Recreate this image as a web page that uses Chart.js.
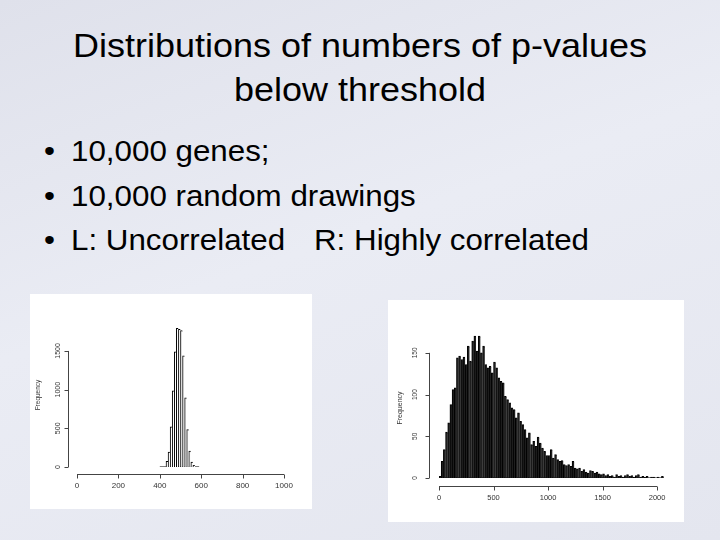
<!DOCTYPE html>
<html>
<head>
<meta charset="utf-8">
<script src="https://cdn.jsdelivr.net/npm/chart.js@4/dist/chart.umd.min.js"></script>
<style>
  html, body { margin: 0; padding: 0; }
  body {
    width: 720px; height: 540px; position: relative; overflow: hidden;
    background: linear-gradient(160deg, #dfe1eb 0%, #eaecf4 45%, #e4e6ef 100%);
    font-family: "Liberation Sans", Arial, sans-serif; color: #000;
  }
  .line { position: absolute; white-space: pre; line-height: 1; transform-origin: left top; }
  .title { left: 0; width: 720px; text-align: center; font-size: 33px; transform: scaleX(1.09); transform-origin: center top; }
  .bullet { left: 71px; font-size: 29px; transform: scaleX(1.08); }
  .dot { left: 44px; font-size: 29px; transform: scaleX(1.08); }
  .panel { position: absolute; background: #fff; }
</style>
</head>
<body>
<div class="line title" style="top:29px">Distributions of numbers of p-values</div>
<div class="line title" style="top:73px">below threshold</div>

<div class="line dot" style="top:137px">•</div>
<div class="line bullet" style="top:137px">10,000 genes;</div>
<div class="line dot" style="top:182px">•</div>
<div class="line bullet" style="top:182px">10,000 random drawings</div>
<div class="line dot" style="top:226px">•</div>
<div class="line bullet" style="top:226px">L: Uncorrelated</div>
<div class="line bullet" style="top:226px;left:314px">R: Highly correlated</div>

<div class="panel" style="left:30px;top:294px;width:282px;height:215px">
  <canvas id="leftChart" width="282" height="215"></canvas>
</div>
<div class="panel" style="left:388px;top:300px;width:296px;height:222px">
  <canvas id="rightChart" width="296" height="222"></canvas>
</div>

<script>
// left: uncorrelated genes, bin width 10
const leftBinWidth = 10;
const leftBins = [400, 410, 420, 430, 440, 450, 460, 470, 480, 490, 500, 510, 520, 530, 540, 550, 560, 570, 580];
const leftCounts = [0, 0, 0, 73, 194, 518, 985, 1490, 1793, 1780, 1763, 1438, 894, 484, 207, 65, 22, 0, 0];
const leftXTicks = [0, 200, 400, 600, 800, 1000];
const leftYTicks = [0, 500, 1000, 1500];

// right: highly correlated genes, bin width 20
const rightBinWidth = 20;
const rightBins = [0, 20, 40, 60, 80, 100, 120, 140, 160, 180, 200, 220, 240, 260, 280, 300, 320, 340, 360, 380,
  400, 420, 440, 460, 480, 500, 520, 540, 560, 580, 600, 620, 640, 660, 680, 700, 720, 740, 760, 780,
  800, 820, 840, 860, 880, 900, 920, 940, 960, 980, 1000, 1020, 1040, 1060, 1080, 1100, 1120, 1140, 1160, 1180,
  1200, 1220, 1240, 1260, 1280, 1300, 1320, 1340, 1360, 1380, 1400, 1420, 1440, 1460, 1480, 1500, 1520, 1540, 1560, 1580,
  1600, 1620, 1640, 1660, 1680, 1700, 1720, 1740, 1760, 1780, 1800, 1820, 1840, 1860, 1880, 1900, 1920, 1940, 1960, 1980,
  2000, 2020, 2040];
const rightCounts = [2, 20, 34, 55, 66, 88, 106, 108, 144, 146, 142, 145, 136, 158, 140, 164, 170, 152, 170, 150,
  158, 136, 132, 134, 126, 139, 132, 120, 116, 114, 98, 94, 90, 84, 82, 72, 78, 68, 64, 58,
  48, 54, 40, 44, 38, 49, 42, 36, 32, 27, 27, 34, 24, 28, 22, 20, 21, 16, 15, 16,
  14, 20, 12, 11, 12, 8, 10, 7, 6, 9, 8, 6, 7, 5, 4, 5, 3, 4, 2, 3,
  1, 4, 2, 3, 1, 3, 4, 2, 3, 1, 3, 4, 1, 2, 1, 2, 0, 1, 1, 0,
  1, 0, 2];
const rightXTicks = [0, 500, 1000, 1500, 2000];
const rightYTicks = [0, 50, 100, 150];

// R style axes: detached from the plot area, outward ticks, rotated y labels
const rAxes = {
  id: 'rAxes',
  afterDraw(chart, args, o) {
    const ctx = chart.ctx;
    const xs = chart.scales.x, ys = chart.scales.y, area = chart.chartArea;
    const ax = Math.round(area.left - o.yGap) + 0.5;
    const ay = Math.round(area.bottom + o.xGap) + 0.5;
    ctx.save();
    ctx.strokeStyle = '#444';
    ctx.lineWidth = 1;
    ctx.beginPath();
    ctx.moveTo(xs.getPixelForValue(o.xTicks[0]), ay);
    ctx.lineTo(xs.getPixelForValue(o.xTicks[o.xTicks.length - 1]), ay);
    o.xTicks.forEach(v => {
      const p = Math.round(xs.getPixelForValue(v)) + 0.5;
      ctx.moveTo(p, ay); ctx.lineTo(p, ay + 4);
    });
    ctx.moveTo(ax, ys.getPixelForValue(o.yTicks[0]));
    ctx.lineTo(ax, ys.getPixelForValue(o.yTicks[o.yTicks.length - 1]));
    o.yTicks.forEach(v => {
      const p = Math.round(ys.getPixelForValue(v)) + 0.5;
      ctx.moveTo(ax, p); ctx.lineTo(ax - 4, p);
    });
    ctx.stroke();

    ctx.fillStyle = '#333';
    ctx.textAlign = 'center';
    ctx.textBaseline = 'middle';
    ctx.font = o.xFont;
    o.xTicks.forEach(v => ctx.fillText(String(v), xs.getPixelForValue(v), ay + o.xLabelGap));
    ctx.font = o.yFont;
    o.yTicks.forEach(v => {
      ctx.save();
      ctx.translate(ax - o.yLabelGap, ys.getPixelForValue(v));
      ctx.rotate(-Math.PI / 2);
      ctx.fillText(String(v), 0, 0);
      ctx.restore();
    });
    ctx.font = o.labFont;
    ctx.save();
    ctx.translate(ax - o.labGap, o.labY);
    ctx.rotate(-Math.PI / 2);
    ctx.fillText('Frequency', 0, 0);
    ctx.restore();
    ctx.restore();
  }
};

function histogram(id, bins, width, counts, fill, xMax, yMax, padding, axes) {
  const last = bins.length - 1;
  return new Chart(document.getElementById(id), {
    type: 'bar',
    data: {
      datasets: [{
        type: 'bar',
        data: bins.map((b, i) => ({ x: b + width / 2, y: counts[i] })),
        backgroundColor: fill,
        borderColor: '#000',
        borderWidth: { left: 1, top: 1, right: 0, bottom: 0 },
        borderSkipped: false,
        barPercentage: 1,
        categoryPercentage: 1
      }, {
        type: 'line',
        data: [{ x: bins[0], y: 0 }, { x: bins[last] + width, y: 0 }],
        borderColor: '#000',
        borderWidth: 1,
        pointRadius: 0
      }]
    },
    options: {
      responsive: false,
      animation: false,
      layout: { padding },
      plugins: { legend: { display: false }, tooltip: { enabled: false }, rAxes: axes },
      scales: {
        x: { type: 'linear', min: 0, max: xMax, offset: false, display: false },
        y: { min: 0, max: yMax, display: false }
      }
    },
    plugins: [rAxes]
  });
}

histogram('leftChart', leftBins, leftBinWidth, leftCounts, '#fff', 1000, 1900,
  { left: 47, right: 28, top: 26, bottom: 42 },
  { xTicks: leftXTicks, yTicks: leftYTicks, yGap: 9, xGap: 7, xLabelGap: 11, yLabelGap: 10,
    labGap: 30, labY: 101, xFont: '8px "Liberation Sans"', yFont: '7px "Liberation Sans"', labFont: '6.5px "Liberation Sans"' });

histogram('rightChart', rightBins, rightBinWidth, rightCounts, '#1e1e1e', 2100, 175,
  { left: 51, right: 16, top: 32, bottom: 44 },
  { xTicks: rightXTicks, yTicks: rightYTicks, yGap: 10, xGap: 8, xLabelGap: 11, yLabelGap: 14,
    labGap: 29, labY: 108, xFont: '7.5px "Liberation Sans"', yFont: '6.5px "Liberation Sans"', labFont: '7px "Liberation Sans"' });
</script>
</body>
</html>
